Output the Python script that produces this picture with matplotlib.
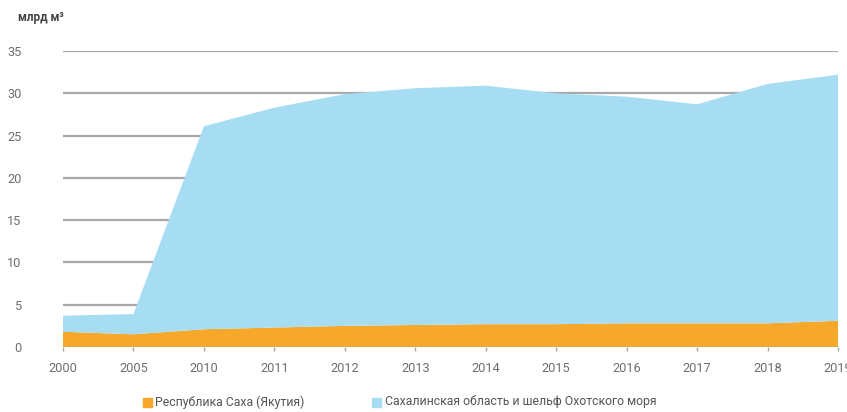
import matplotlib
matplotlib.use("Agg")
import matplotlib.pyplot as plt
import numpy as np

# data, млрд м3
years = ["2000", "2005", "2010", "2011", "2012", "2013", "2014",
         "2015", "2016", "2017", "2018", "2019"]
sakha = [1.8, 1.5, 2.1, 2.3, 2.5, 2.6, 2.7, 2.7, 2.8, 2.8, 2.8, 3.1]
total = [3.7, 3.9, 26.1, 28.3, 29.9, 30.6, 30.9, 30.0, 29.6, 28.7, 31.1, 32.2]
sakhalin = [t - s for t, s in zip(total, sakha)]
yticks = [0, 5, 10, 15, 20, 25, 30, 35]

orange = "#F6A82A"
blue = "#A7DDF3"
grid_c = "#A8A8A8"
tick_c = "#6E6E6E"

plt.rcParams["font.family"] = ["Roboto", "DejaVu Sans"]

fig = plt.figure(figsize=(8.47, 4.12), dpi=100)
ax = fig.add_axes([63 / 847, 65 / 412, 775 / 847, 296 / 412])

x = np.arange(len(years))
ax.stackplot(x, sakha, sakhalin, colors=[orange, blue], linewidth=0, zorder=2)

for v in yticks[1:]:
    ax.axhline(v, color=grid_c, linewidth=1.6, zorder=1)
ax.axhline(0, color=grid_c, linewidth=1.0, zorder=3)

ax.set_xlim(0, len(years) - 1)
ax.set_ylim(0, 35)
ax.set_xticks(x)
ax.set_xticklabels(years)
ax.set_yticks(yticks)
ax.tick_params(axis="x", length=3, width=1, color=grid_c, pad=8,
               labelsize=9.2, labelcolor=tick_c)
ax.tick_params(axis="y", length=0, pad=30, labelsize=9.2, labelcolor=tick_c)
for lab in ax.get_yticklabels():
    lab.set_horizontalalignment("right")
for s in ax.spines.values():
    s.set_visible(False)

fig.text(18 / 847, 1 - 17 / 412, "млрд м³", fontsize=8.5, fontweight="bold",
         color="#444444", va="center", ha="left")

# legend along the bottom
fig.patches.append(plt.Rectangle((143 / 847, 1 - 407 / 412), 9 / 847, 9 / 412,
                                 transform=fig.transFigure, color=orange, figure=fig))
fig.text(155 / 847, 1 - 402 / 412, "Республика Саха (Якутия)", fontsize=8.8,
         color="#555555", va="center", ha="left")
fig.patches.append(plt.Rectangle((372 / 847, 1 - 407 / 412), 9 / 847, 9 / 412,
                                 transform=fig.transFigure, color=blue, figure=fig))
fig.text(385 / 847, 1 - 402 / 412, "Сахалинская область и шельф Охотского моря",
         fontsize=8.8, color="#555555", va="center", ha="left")

fig.savefig("out.png", dpi=100)
